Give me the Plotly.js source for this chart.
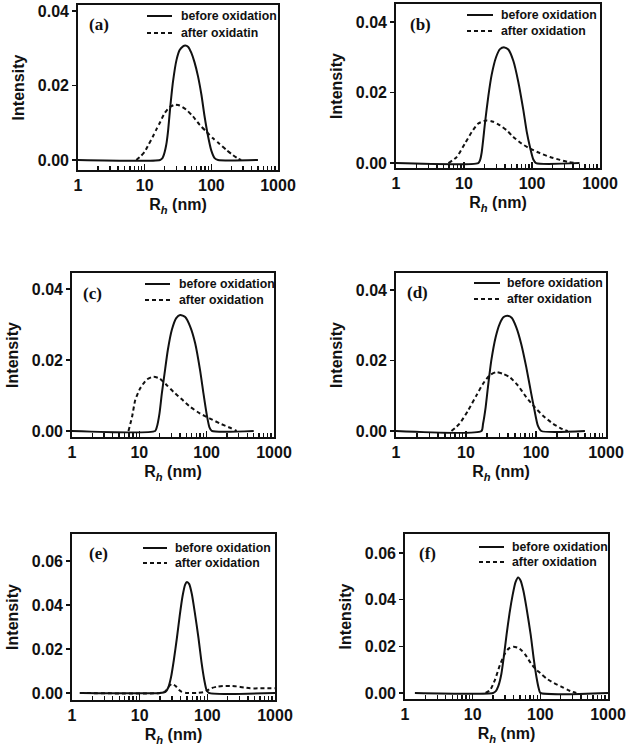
<!DOCTYPE html>
<html>
<head>
<meta charset="utf-8">
<script src="https://cdn.plot.ly/plotly-3.0.1.min.js"></script>
<style>
html,body{margin:0;padding:0;background:#fff;}
#chart{width:627px;height:750px;}
</style>
</head>
<body>
<div id="chart"></div>
<script>
// ---------- data ----------
var panelLabels = ["(a)", "(b)", "(c)", "(d)", "(e)", "(f)"];
var beforeName = "before oxidation";
var afterNames = ["after oxidatin", "after oxidation", "after oxidation", "after oxidation", "after oxidation", "after oxidation"];
var xTickVals = [1, 10, 100, 1000];
var xTickText = ["1", "10", "100", "1000"];

// (a)
var aBeforeX = [1, 17, 18.5, 19.5, 20.5, 21.4, 22.5, 24, 26.6, 30, 33.5, 37.6, 40.7, 44.7, 50, 56, 63, 71, 79, 89, 100, 112, 126, 500];
var aBeforeY = [0, 0, 0.0005, 0.0015, 0.003, 0.0048, 0.008, 0.0135, 0.021, 0.0268, 0.0295, 0.0305, 0.0307, 0.0304, 0.0288, 0.0262, 0.0225, 0.0175, 0.0118, 0.0065, 0.0025, 0.0005, 0, 0];
var aAfterX = [7.5, 8.5, 10, 11.5, 13.3, 15, 16.8, 20, 23.7, 28.2, 33.5, 42, 53, 67, 84, 106, 133, 168, 211, 250, 280];
var aAfterY = [0, 0.0008, 0.0022, 0.0042, 0.0063, 0.0082, 0.0099, 0.0126, 0.0142, 0.0148, 0.0146, 0.0135, 0.0117, 0.0094, 0.0076, 0.0058, 0.0043, 0.0027, 0.0013, 0.0004, 0];

// (b)
var bBeforeX = [1, 16.2, 17.2, 18.2, 20.4, 22.8, 25.5, 29.6, 33.8, 39.2, 44.9, 53.1, 62.9, 74.6, 83.5, 93.5, 104.6, 114.5, 500];
var bBeforeY = [0, 0, 0.0008, 0.003, 0.0115, 0.019, 0.025, 0.030, 0.0323, 0.0328, 0.0322, 0.029, 0.023, 0.015, 0.009, 0.0045, 0.001, 0, 0];
var bAfterX = [5.9, 7.8, 10.3, 13, 16.2, 21.5, 27, 33.8, 42.4, 53.1, 70.5, 93.5, 131, 184, 258, 342, 454];
var bAfterY = [0, 0.0017, 0.0055, 0.0088, 0.0112, 0.0121, 0.0117, 0.0107, 0.0093, 0.0074, 0.0055, 0.0041, 0.0028, 0.0017, 0.0009, 0.0003, 0];

// (c)
var cBeforeX = [1, 17.2, 18.2, 19.9, 21.6, 23.7, 26.5, 30.4, 35.3, 40.4, 48, 56.9, 67.5, 80, 89.7, 100.5, 110, 119, 500];
var cBeforeY = [0, 0, 0.0011, 0.0049, 0.0106, 0.0162, 0.0228, 0.0285, 0.0318, 0.0327, 0.0321, 0.0294, 0.0247, 0.017, 0.0105, 0.0045, 0.001, 0, 0];
var cAfterX = [6.9, 7.8, 8.7, 10.3, 12.9, 16.3, 19.9, 25.6, 32.2, 42.8, 56.9, 80, 112, 158, 223, 264, 279];
var cAfterY = [0, 0.004, 0.0087, 0.012, 0.0145, 0.0153, 0.0148, 0.0129, 0.011, 0.0089, 0.0068, 0.0049, 0.0035, 0.0021, 0.0009, 0.0002, 0];

// (d)
var dBeforeX = [1, 16.6, 17.5, 19.1, 20.6, 23, 26.5, 30.3, 34.5, 38.9, 44.9, 52.3, 61.5, 72.6, 85.5, 95.3, 106, 119, 500];
var dBeforeY = [0, 0, 0.002, 0.0068, 0.0125, 0.02, 0.0266, 0.0304, 0.0323, 0.0327, 0.0321, 0.0294, 0.0247, 0.0181, 0.0106, 0.0058, 0.0016, 0, 0];
var dAfterX = [6.2, 8.1, 10.7, 14.1, 17.5, 21.8, 27.1, 33.8, 42, 55.2, 72.6, 95.3, 125, 174, 229, 284];
var dAfterY = [0, 0.0021, 0.0058, 0.0101, 0.0134, 0.0158, 0.0167, 0.0162, 0.0153, 0.0129, 0.0096, 0.0068, 0.0044, 0.0021, 0.0007, 0];

// (e)
var eBeforeX = [1.4, 20, 24, 26.5, 29, 32, 35.5, 39, 43, 47, 50, 54, 59, 65, 74, 82, 90, 97, 105, 1000];
var eBeforeY = [0, 0, 0.0005, 0.0025, 0.007, 0.015, 0.025, 0.035, 0.044, 0.0493, 0.0505, 0.0495, 0.045, 0.037, 0.025, 0.014, 0.006, 0.0015, 0, 0];
var eAfterX = [1.3, 20, 24, 27, 30, 34, 38, 42, 50, 70, 87, 100, 115, 140, 170, 220, 270, 350, 430, 600, 1000];
var eAfterY = [0, 0, 0.0008, 0.003, 0.0041, 0.0032, 0.0015, 0.0005, 0, 0, 0.0003, 0.0012, 0.0022, 0.0029, 0.0032, 0.0032, 0.003, 0.0025, 0.0021, 0.0021, 0.0021];

// (f)
var fBeforeX = [1.4, 20, 22, 24, 26.5, 29, 31.7, 35, 39, 43, 47, 51, 56, 62, 72, 80, 88, 95, 100, 1000];
var fBeforeY = [0, 0, 0.0008, 0.003, 0.008, 0.016, 0.025, 0.034, 0.042, 0.0475, 0.0495, 0.0482, 0.044, 0.037, 0.025, 0.0145, 0.0065, 0.0018, 0, 0];
var fAfterX = [15.5, 18, 21.3, 25.3, 29.9, 34, 39.7, 46, 53, 62, 72, 85, 100, 123, 160, 200, 250, 300, 340];
var fAfterY = [0, 0.0011, 0.0055, 0.012, 0.0168, 0.019, 0.0198, 0.0194, 0.0182, 0.0158, 0.0128, 0.0103, 0.0085, 0.0062, 0.0042, 0.0028, 0.0014, 0.0004, 0];

var beforeXs = [aBeforeX, bBeforeX, cBeforeX, dBeforeX, eBeforeX, fBeforeX];
var beforeYs = [aBeforeY, bBeforeY, cBeforeY, dBeforeY, eBeforeY, fBeforeY];
var afterXs = [aAfterX, bAfterX, cAfterX, dAfterX, eAfterX, fAfterX];
var afterYs = [aAfterY, bAfterY, cAfterY, dAfterY, eAfterY, fAfterY];

// ---------- layout geometry (pixels) ----------
var W = 627, H = 750;
// plot boxes: [left, top, right, bottom]
var boxes = [
  [78, 5, 278, 170],
  [396, 4, 600, 168],
  [72, 273, 274, 437],
  [396, 273, 606, 437],
  [72, 534, 275, 700],
  [405, 534, 608, 699]
];
var yRanges = [
  [-0.0027, 0.0416],
  [-0.0014, 0.0451],
  [-0.0017, 0.0445],
  [-0.0017, 0.0448],
  [-0.0032, 0.0723],
  [-0.0026, 0.0681]
];
// legend: [lineStart, lineEnd, textStart, row1Y, row2Y]
var legendPos = [
  [147, 172, 179, 16, 33],
  [467, 493, 499, 15, 31],
  [145, 170, 177, 284, 300],
  [474, 500, 505, 283, 299],
  [143, 167, 173, 548, 563],
  [479, 504, 510, 547, 562]
];
// panel label centre [x, y]
var labelPos = [[99, 24], [420, 25], [92, 293], [417, 292], [98, 553], [427, 553]];

function px(x) { return x / W; }
function py(y) { return 1 - y / H; }

var FONT = "Liberation Sans, Arial, Helvetica, sans-serif";
var SERIF = "Liberation Serif, Times New Roman, serif";
var INK = "#111";

var minorVals = [];
[1, 10, 100].forEach(function (d) { for (var k = 2; k <= 9; k++) minorVals.push(d * k); });

var traces = [];
var layout = {
  width: W, height: H,
  margin: {l: 0, r: 0, t: 0, b: 0},
  paper_bgcolor: "#fff",
  plot_bgcolor: "#fff",
  showlegend: false,
  font: {family: FONT, color: INK},
  shapes: [],
  annotations: []
};

for (var i = 0; i < 6; i++) {
  var n = i + 1;
  var xa = n === 1 ? "x" : "x" + n;
  var ya = n === 1 ? "y" : "y" + n;
  var xk = n === 1 ? "xaxis" : "xaxis" + n;
  var yk = n === 1 ? "yaxis" : "yaxis" + n;
  var b = boxes[i];

  traces.push({
    x: beforeXs[i], y: beforeYs[i], xaxis: xa, yaxis: ya,
    type: "scatter", mode: "lines", name: beforeName,
    line: {color: INK, width: 2, shape: "spline", smoothing: 0.6},
    hoverinfo: "skip"
  });
  traces.push({
    x: afterXs[i], y: afterYs[i], xaxis: xa, yaxis: ya,
    type: "scatter", mode: "lines", name: afterNames[i],
    line: {color: INK, width: 2, dash: "4px,3px", shape: "spline", smoothing: 0.6},
    hoverinfo: "skip"
  });

  layout[xk] = {
    type: "log",
    domain: [px(b[0]), px(b[2])],
    anchor: ya,
    range: [0, 3],
    tickmode: "array",
    tickvals: xTickVals, ticktext: xTickText,
    ticks: "inside", ticklen: 6, tickwidth: 1.5, tickcolor: INK,
    minor: {tickmode: "array", tickvals: minorVals, ticks: "inside", ticklen: 4, tickwidth: 1.4, tickcolor: INK, showgrid: false},
    showline: true, linecolor: INK, linewidth: 1.8, mirror: true,
    showgrid: false, zeroline: false,
    tickfont: {family: FONT, size: 16, color: INK, weight: 700},
    title: {text: "R<sub><i>h</i></sub> (nm)", font: {family: FONT, size: 16, color: INK, weight: 700}, standoff: 6},
    automargin: false
  };
  layout[yk] = {
    domain: [py(b[3]), py(b[1])],
    anchor: xa,
    range: yRanges[i],
    tickmode: "array",
    tickvals: i < 4 ? [0, 0.02, 0.04] : [0, 0.02, 0.04, 0.06],
    tickformat: ".2f",
    ticks: "outside", ticklen: 4, tickwidth: 1.5, tickcolor: INK,
    showline: true, linecolor: INK, linewidth: 1.8, mirror: true,
    showgrid: false, zeroline: false,
    tickfont: {family: FONT, size: 16, color: INK, weight: 700},
    title: {text: "Intensity", font: {family: FONT, size: 16, color: INK, weight: 700}, standoff: 9},
    automargin: false
  };

  var L = legendPos[i];
  layout.shapes.push({type: "line", xref: "paper", yref: "paper",
    x0: px(L[0]), x1: px(L[1]), y0: py(L[3]), y1: py(L[3]),
    line: {color: INK, width: 2}});
  layout.shapes.push({type: "line", xref: "paper", yref: "paper",
    x0: px(L[0]), x1: px(L[1]), y0: py(L[4]), y1: py(L[4]),
    line: {color: INK, width: 2, dash: "4px,3px"}});
  layout.annotations.push({xref: "paper", yref: "paper", x: px(L[2]), y: py(L[3]),
    xanchor: "left", yanchor: "middle", showarrow: false, text: beforeName,
    font: {family: FONT, size: 12.3, color: INK, weight: 700}});
  layout.annotations.push({xref: "paper", yref: "paper", x: px(L[2]), y: py(L[4]),
    xanchor: "left", yanchor: "middle", showarrow: false, text: afterNames[i],
    font: {family: FONT, size: 12.3, color: INK, weight: 700}});
  layout.annotations.push({xref: "paper", yref: "paper", x: px(labelPos[i][0]), y: py(labelPos[i][1]),
    xanchor: "center", yanchor: "middle", showarrow: false, text: panelLabels[i],
    font: {family: SERIF, size: 17, color: INK, weight: 700}});
}

Plotly.newPlot("chart", traces, layout, {staticPlot: true, displayModeBar: false});
</script>
</body>
</html>
